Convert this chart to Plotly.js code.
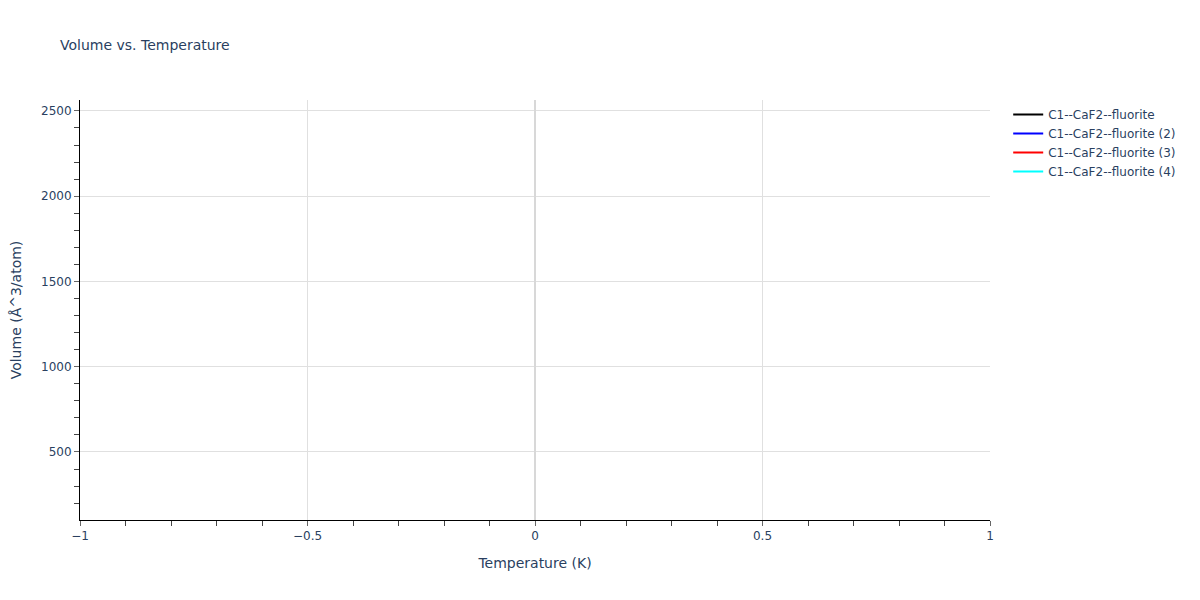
<!DOCTYPE html>
<html>
<head>
<meta charset="utf-8">
<script src="https://cdn.plot.ly/plotly-3.0.1.min.js"></script>
<style>body{margin:0;} #plot{width:1200px;height:600px;}</style>
</head>
<body>
<div id="plot"></div>
<script>
var names = ['C1--CaF2--fluorite', 'C1--CaF2--fluorite (2)', 'C1--CaF2--fluorite (3)', 'C1--CaF2--fluorite (4)'];
var colors = ['black', 'blue', 'red', 'cyan'];
// each series holds a single point at T = 0, so no line is drawn
var temps = [[0], [0], [0], [0]];
var volumes = [[163], [164], [2500], [2500]];

var traces = names.map(function(n, i) {
  return {x: temps[i], y: volumes[i], name: n, mode: 'lines', type: 'scatter',
          line: {color: colors[i], width: 2}};
});

var axisStyle = {
  showline: true, linecolor: 'black', linewidth: 1,
  gridcolor: '#e0e0e0', zerolinecolor: '#d8d8d8', zerolinewidth: 2,
  ticks: 'outside', ticklen: 5, tickcolor: '#666'
};

var layout = {
  width: 1200, height: 600,
  font: {family: '"DejaVu Sans", verdana, sans-serif', color: '#2a3f5f', size: 12},
  title: {text: 'Volume vs. Temperature', x: 0.05, font: {size: 14}},
  paper_bgcolor: 'white', plot_bgcolor: 'white',
  margin: {t: 100, b: 80, l: 80, r: 210},
  xaxis: Object.assign({}, axisStyle, {
    title: {text: 'Temperature (K)', font: {size: 14}, standoff: 15},
    range: [-1, 1], dtick: 0.5, minor: {ticks: 'outside', ticklen: 5, tickcolor: '#444', dtick: 0.1, showgrid: false}
  }),
  yaxis: Object.assign({}, axisStyle, {
    title: {text: 'Volume (Å^3/atom)', font: {size: 14}, standoff: 16},
    range: [101, 2564], dtick: 500, minor: {ticks: 'outside', ticklen: 5, tickcolor: '#444', dtick: 100, showgrid: false}
  }),
  legend: {x: 1.02, y: 1, font: {size: 12}},
  showlegend: true
};

Plotly.newPlot('plot', traces, layout, {staticPlot: true});
</script>
</body>
</html>
